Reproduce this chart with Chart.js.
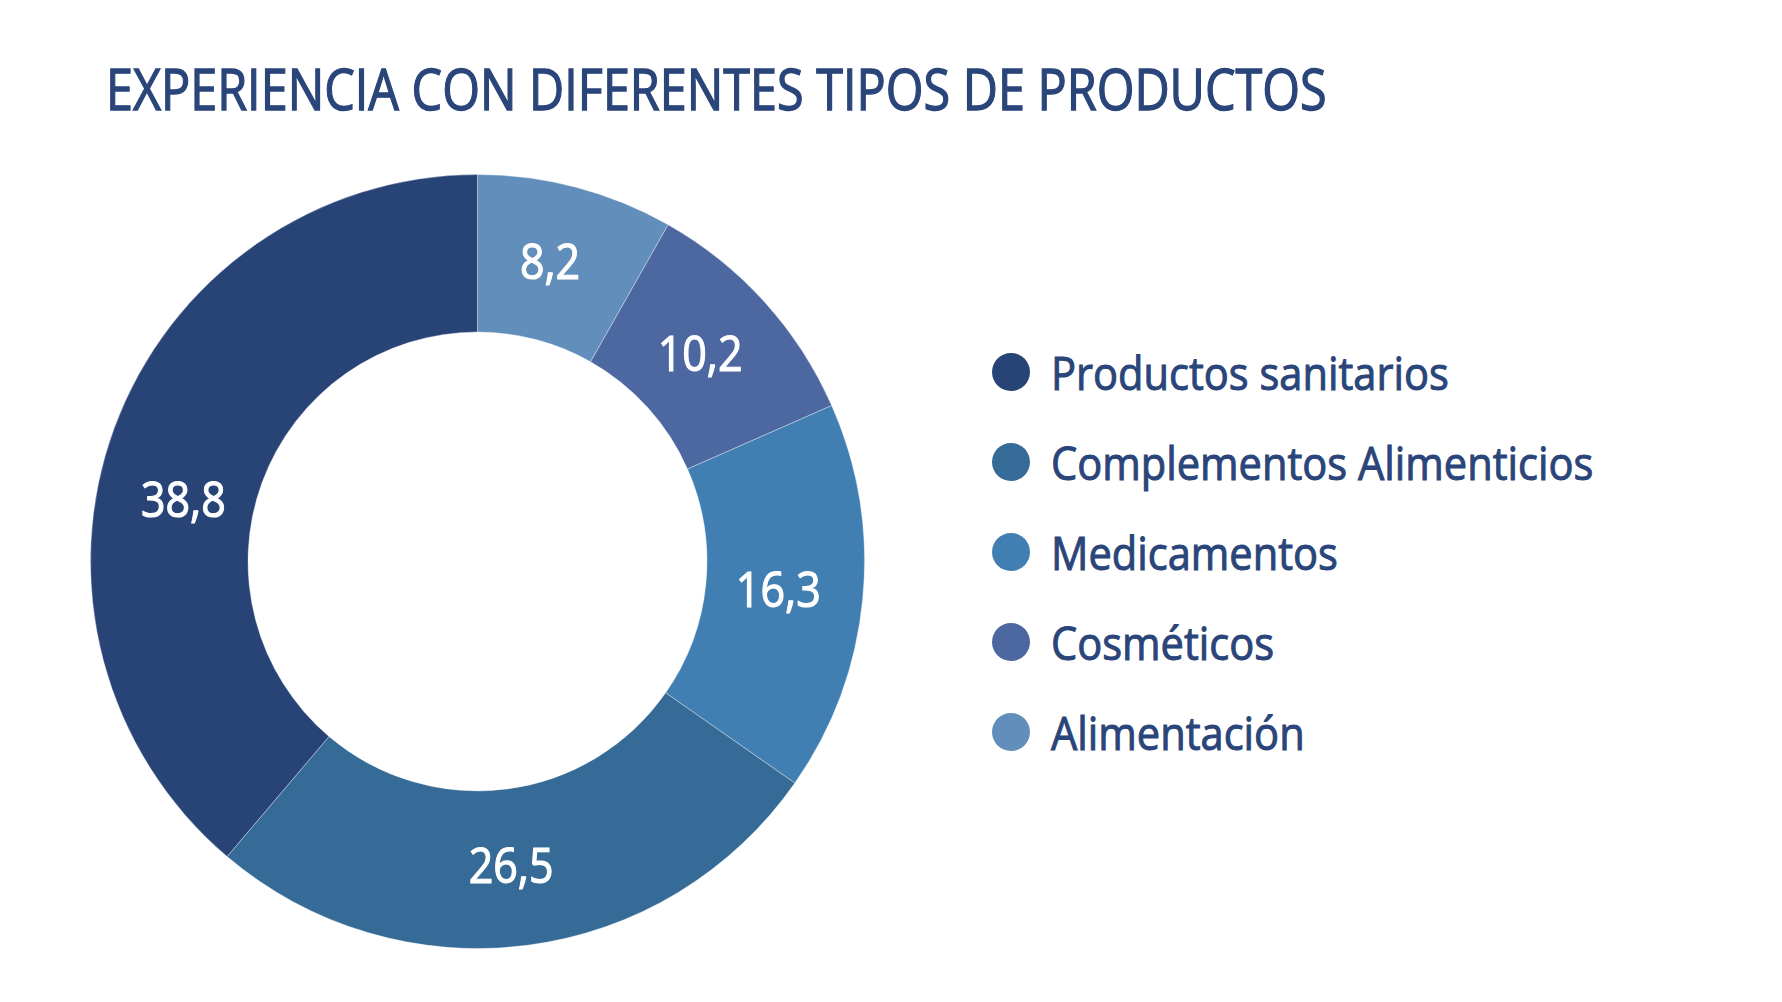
<!DOCTYPE html>
<html>
<head>
<meta charset="utf-8">
<script src="https://cdn.jsdelivr.net/npm/chart.js@4"></script>
<style>
  body { margin: 0; background: #ffffff; width: 1782px; height: 1002px; overflow: hidden; position: relative; font-family: "Open Sans", sans-serif; }
  #title { position: absolute; left: 106px; top: 60px; font-size: 57px; line-height: 57px; color: #2a4579; -webkit-text-stroke: 1.3px #2a4579; white-space: nowrap; transform-origin: left top; }
  #chartBox { position: absolute; left: 90px; top: 174px; width: 775px; height: 775px; }
  .legend-row { position: absolute; left: 992px; height: 46px; display: flex; align-items: center; }
  .legend-dot { width: 38px; height: 38px; border-radius: 50%; }
  .legend-text { position: absolute; left: 59px; top: 0; font-size: 46px; line-height: 46px; color: #2a4579; -webkit-text-stroke: 1px #2a4579; white-space: nowrap; transform-origin: left top; }
</style>
</head>
<body>
<div id="title">EXPERIENCIA CON DIFERENTES TIPOS DE PRODUCTOS</div>
<div id="chartBox"><canvas id="donutChart"></canvas></div>
<div id="legend"></div>
<script>
// clockwise from 12 o'clock
var categories = ['Alimentación', 'Cosméticos', 'Medicamentos', 'Complementos Alimenticios', 'Productos sanitarios'];
var values = [8.2, 10.2, 16.3, 26.5, 38.8];
var colors = ['#618eba', '#4d67a0', '#417fb2', '#366b97', '#284477'];

// title squeezed to the width of the original (condensed font)
var title = document.getElementById('title');
title.style.transform = 'scaleX(' + (1221 / title.scrollWidth) + ')';

// legend, listed in reverse order
var legend = document.getElementById('legend');
var order = categories.map(function (c, i) { return i }).reverse();
var textScale = null;
order.forEach(function (idx, row) {
    var div = document.createElement('div');
    div.className = 'legend-row';
    div.style.top = (349 + row * 90) + 'px';
    div.innerHTML = '<div class="legend-dot" style="background:' + colors[idx] + '"></div>' +
        '<div class="legend-text">' + categories[idx] + '</div>';
    legend.appendChild(div);
    var t = div.querySelector('.legend-text');
    if (textScale === null) textScale = 398 / t.scrollWidth;
    t.style.transform = 'scaleX(' + textScale + ')';
});

var sliceLabels = {
    id: 'sliceLabels',
    afterDatasetsDraw: function (chart) {
        var ctx = chart.ctx;
        var meta = chart.getDatasetMeta(0);
        var biggest = values.indexOf(Math.max.apply(null, values));
        ctx.save();
        ctx.fillStyle = '#ffffff';
        ctx.strokeStyle = '#ffffff';
        ctx.lineWidth = 1.2;
        ctx.font = '50px "Open Sans"';
        ctx.textAlign = 'center';
        ctx.textBaseline = 'alphabetic';
        meta.data.forEach(function (arc, i) {
            var p = arc.getCenterPoint();
            var dx = -6;
            if (i === biggest) {
                // the big slice has its label pulled up a bit, as in the original
                var r = (arc.innerRadius + arc.outerRadius) / 2 - 8;
                var a = (arc.startAngle + arc.endAngle) / 2 - 0.15;
                p = { x: arc.x + r * Math.cos(a), y: arc.y + r * Math.sin(a) };
                dx = 0;
            }
            var txt = values[i].toFixed(1).replace('.', ',');
            ctx.save();
            ctx.translate(p.x + dx, p.y + 16);
            ctx.scale(0.86, 1);
            ctx.fillText(txt, 0, 0);
            ctx.strokeText(txt, 0, 0);
            ctx.restore();
        });
        ctx.restore();
    }
};

new Chart(document.getElementById('donutChart').getContext('2d'), {
    type: 'doughnut',
    data: {
        labels: categories,
        datasets: [{
            data: values,
            backgroundColor: colors,
            borderColor: 'rgba(255,255,255,0.35)',
            borderWidth: 1
        }]
    },
    options: {
        responsive: true,
        maintainAspectRatio: false,
        animation: false,
        cutout: '59.3%',
        layout: { padding: 0 },
        plugins: {
            legend: { display: false },
            tooltip: { enabled: false }
        }
    },
    plugins: [sliceLabels]
});
</script>
</body>
</html>
